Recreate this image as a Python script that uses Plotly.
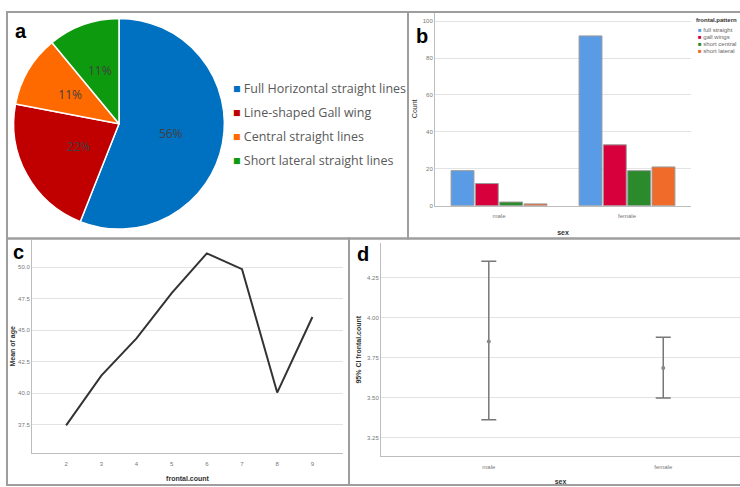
import plotly.graph_objects as go

W, H = 740, 487

def px(x):
    return x / W

def py(y):
    return 1 - y / H

# ---------- data ----------
pie_labels = ["Full Horizontal straight lines", "Line-shaped Gall wing",
              "Central straight lines", "Short lateral straight lines"]
pie_values = [56, 22, 11, 11]
pie_colors = ["#0070C0", "#C00000", "#FF6A00", "#0E9A0E"]

sex_cats = ["male", "female"]
pattern_names = ["full straight", "gall wings", "short central", "short lateral"]
pattern_counts = {
    "full straight": [19, 92],
    "gall wings": [12, 33],
    "short central": [2, 19],
    "short lateral": [1, 21],
}
bar_colors = ["#5A9BE6", "#D7003C", "#2B8A2B", "#F06A2A"]

frontal_count = [2, 3, 4, 5, 6, 7, 8, 9]
mean_age = [37.45, 41.4, 44.35, 47.95, 51.1, 49.85, 40.05, 46.05]
age_ticks = [37.5, 40.0, 42.5, 45.0, 47.5, 50.0]

ci_sex = ["male", "female"]
ci_mean = [3.852, 3.685]
ci_upper = [4.354, 3.879]
ci_lower = [3.362, 3.498]
ci_ticks = [3.25, 3.50, 3.75, 4.00, 4.25]

fig = go.Figure()

# ---------- a: pie ----------
pie_cx, pie_cy, pie_r = 119, 124.5, 106
pct_fmt = "%{percent:.0%}"
fig.add_trace(go.Pie(
    labels=pie_labels, values=pie_values, sort=False, direction="clockwise",
    rotation=0, marker=dict(colors=pie_colors, line=dict(color="white", width=1.5)),
    texttemplate=[pct_fmt, "", "", ""], textposition="inside",
    textfont=dict(family="Open Sans", size=12, color="#404040"),
    insidetextorientation="horizontal",
    domain=dict(x=[px(pie_cx - pie_r), px(pie_cx + pie_r)],
                y=[py(pie_cy + pie_r), py(pie_cy - pie_r)]),
    showlegend=False, hoverinfo="label+percent"))
# transparent inner pie carrying the labels of the small slices (closer to centre)
r2 = pie_r * 0.72
fig.add_trace(go.Pie(
    labels=pie_labels, values=pie_values, sort=False, direction="clockwise",
    rotation=0, marker=dict(colors=["rgba(0,0,0,0)"] * 4, line=dict(width=0)),
    texttemplate=["", pct_fmt, pct_fmt, pct_fmt], textposition="inside",
    textfont=dict(family="Open Sans", size=12, color="#404040"),
    insidetextorientation="horizontal",
    domain=dict(x=[px(pie_cx - r2), px(pie_cx + r2)],
                y=[py(pie_cy + r2), py(pie_cy - r2)]),
    showlegend=False, hoverinfo="skip"))

# ---------- b: grouped bars ----------
for name, col in zip(pattern_names, bar_colors):
    fig.add_trace(go.Bar(
        x=sex_cats, y=pattern_counts[name], name=name,
        marker=dict(color=col, line=dict(color="#9a9a9a", width=1)),
        xaxis="x", yaxis="y", showlegend=False))

# ---------- c: line ----------
fig.add_trace(go.Scatter(
    x=frontal_count, y=mean_age, mode="lines",
    line=dict(color="#333333", width=2), xaxis="x2", yaxis="y2", showlegend=False))

# ---------- d: error bars ----------
fig.add_trace(go.Scatter(
    x=[0, 1], y=ci_mean, mode="markers",
    marker=dict(color="#888888", size=4),
    error_y=dict(type="data", symmetric=False,
                 array=[u - m for u, m in zip(ci_upper, ci_mean)],
                 arrayminus=[m - l for m, l in zip(ci_mean, ci_lower)],
                 color="#777777", thickness=1.5, width=7.5),
    xaxis="x3", yaxis="y3", showlegend=False))

tickf = dict(family="Liberation Sans", size=6, color="#777777")
titf = dict(family="Liberation Sans", size=7, color="#333333")
ax_common = dict(showline=True, linecolor="#bdbdbd", linewidth=1, ticks="",
                 tickfont=tickf, zeroline=False)

fig.update_layout(
    width=W, height=H, margin=dict(l=0, r=0, t=0, b=0),
    paper_bgcolor="white", plot_bgcolor="white",
    barmode="group", bargap=0.24, bargroupgap=0.06,
    xaxis=dict(domain=[px(435), px(691)], anchor="y", range=[-0.5, 1.5],
               showgrid=False, ticklabelstandoff=4,
               title=dict(text="<b>sex</b>", font=titf, standoff=12),
               **ax_common),
    yaxis=dict(domain=[py(207), py(12)], anchor="x", range=[0, 105],
               tickvals=[0, 20, 40, 60, 80, 100], showgrid=True, gridcolor="#e3e3e3",
               title=dict(text="Count", font=titf, standoff=4), **ax_common),
    xaxis2=dict(domain=[px(32), px(343)], anchor="y2", range=[1.03, 9.87],
                tickvals=frontal_count, showgrid=False, ticklabelstandoff=5,
                title=dict(text="<b>frontal.count</b>", font=titf, standoff=9),
                **ax_common),
    yaxis2=dict(domain=[py(456), py(241)], anchor="x2", range=[35.24, 52.2],
                tickvals=age_ticks, tickformat=".1f", showgrid=True, gridcolor="#e3e3e3",
                title=dict(text="<b>Mean of age</b>", font=titf, standoff=1), **ax_common),
    xaxis3=dict(domain=[px(381), px(740)], anchor="y3", range=[-0.618, 1.44],
                tickvals=[0, 1], ticktext=ci_sex, showgrid=False, ticklabelstandoff=5,
                title=dict(text="<b>sex</b>", font=titf, standoff=10), **ax_common),
    yaxis3=dict(domain=[py(458.7), py(245)], anchor="x3", range=[3.135, 4.466],
                tickvals=ci_ticks, tickformat=".2f", showgrid=True, gridcolor="#e3e3e3",
                title=dict(text="<b>95% CI frontal.count</b>", font=titf, standoff=4),
                **ax_common),
)

# ---------- frames ----------
frame = dict(type="rect", xref="paper", yref="paper",
             line=dict(color="#9e9e9e", width=2), fillcolor="rgba(0,0,0,0)", layer="above")
fig.add_shape(x0=px(7), x1=px(408), y0=py(240), y1=py(12), **frame)
fig.add_shape(x0=px(408), x1=px(741), y0=py(240), y1=py(12), **frame)
fig.add_shape(x0=px(7), x1=px(349), y0=py(488), y1=py(240), **frame)
fig.add_shape(x0=px(349), x1=px(741), y0=py(488), y1=py(240), **frame)

ann = []
# panel letters
for letter, x, y in [("a", 21, 31), ("b", 422, 36), ("c", 18, 254), ("d", 363, 256)]:
    ann.append(dict(text=f"<b>{letter}</b>", x=px(x), y=py(y), xref="paper", yref="paper",
                    xanchor="center", yanchor="middle", showarrow=False,
                    font=dict(family="Liberation Sans", size=20, color="black")))

# pie legend
for i, (lab, col) in enumerate(zip(pie_labels, pie_colors)):
    yy = 89 + 24 * i
    ann.append(dict(text=f"<span style='color:{col}'>■</span> {lab}", x=px(231), y=py(yy),
                    xref="paper", yref="paper", xanchor="left", yanchor="middle", showarrow=False,
                    font=dict(family="Open Sans", size=12.5, color="#595959")))

# bar legend
ann.append(dict(text="<b>frontal.pattern</b>", x=px(694), y=py(20), xref="paper", yref="paper",
                xanchor="left", yanchor="middle", showarrow=False,
                font=dict(family="Liberation Sans", size=6, color="#333")))
for i, (lab, col) in enumerate(zip(pattern_names, bar_colors)):
    yy = 30 + 7 * i
    ann.append(dict(text=f"<span style='color:{col}'>■</span> {lab}", x=px(696), y=py(yy),
                    xref="paper", yref="paper", xanchor="left", yanchor="middle", showarrow=False,
                    font=dict(family="Liberation Sans", size=6, color="#666")))

fig.update_layout(annotations=ann)

fig.write_html("out.html", config={"displayModeBar": False},
               post_script="document.body.style.margin='0';document.body.style.overflow='hidden';")
